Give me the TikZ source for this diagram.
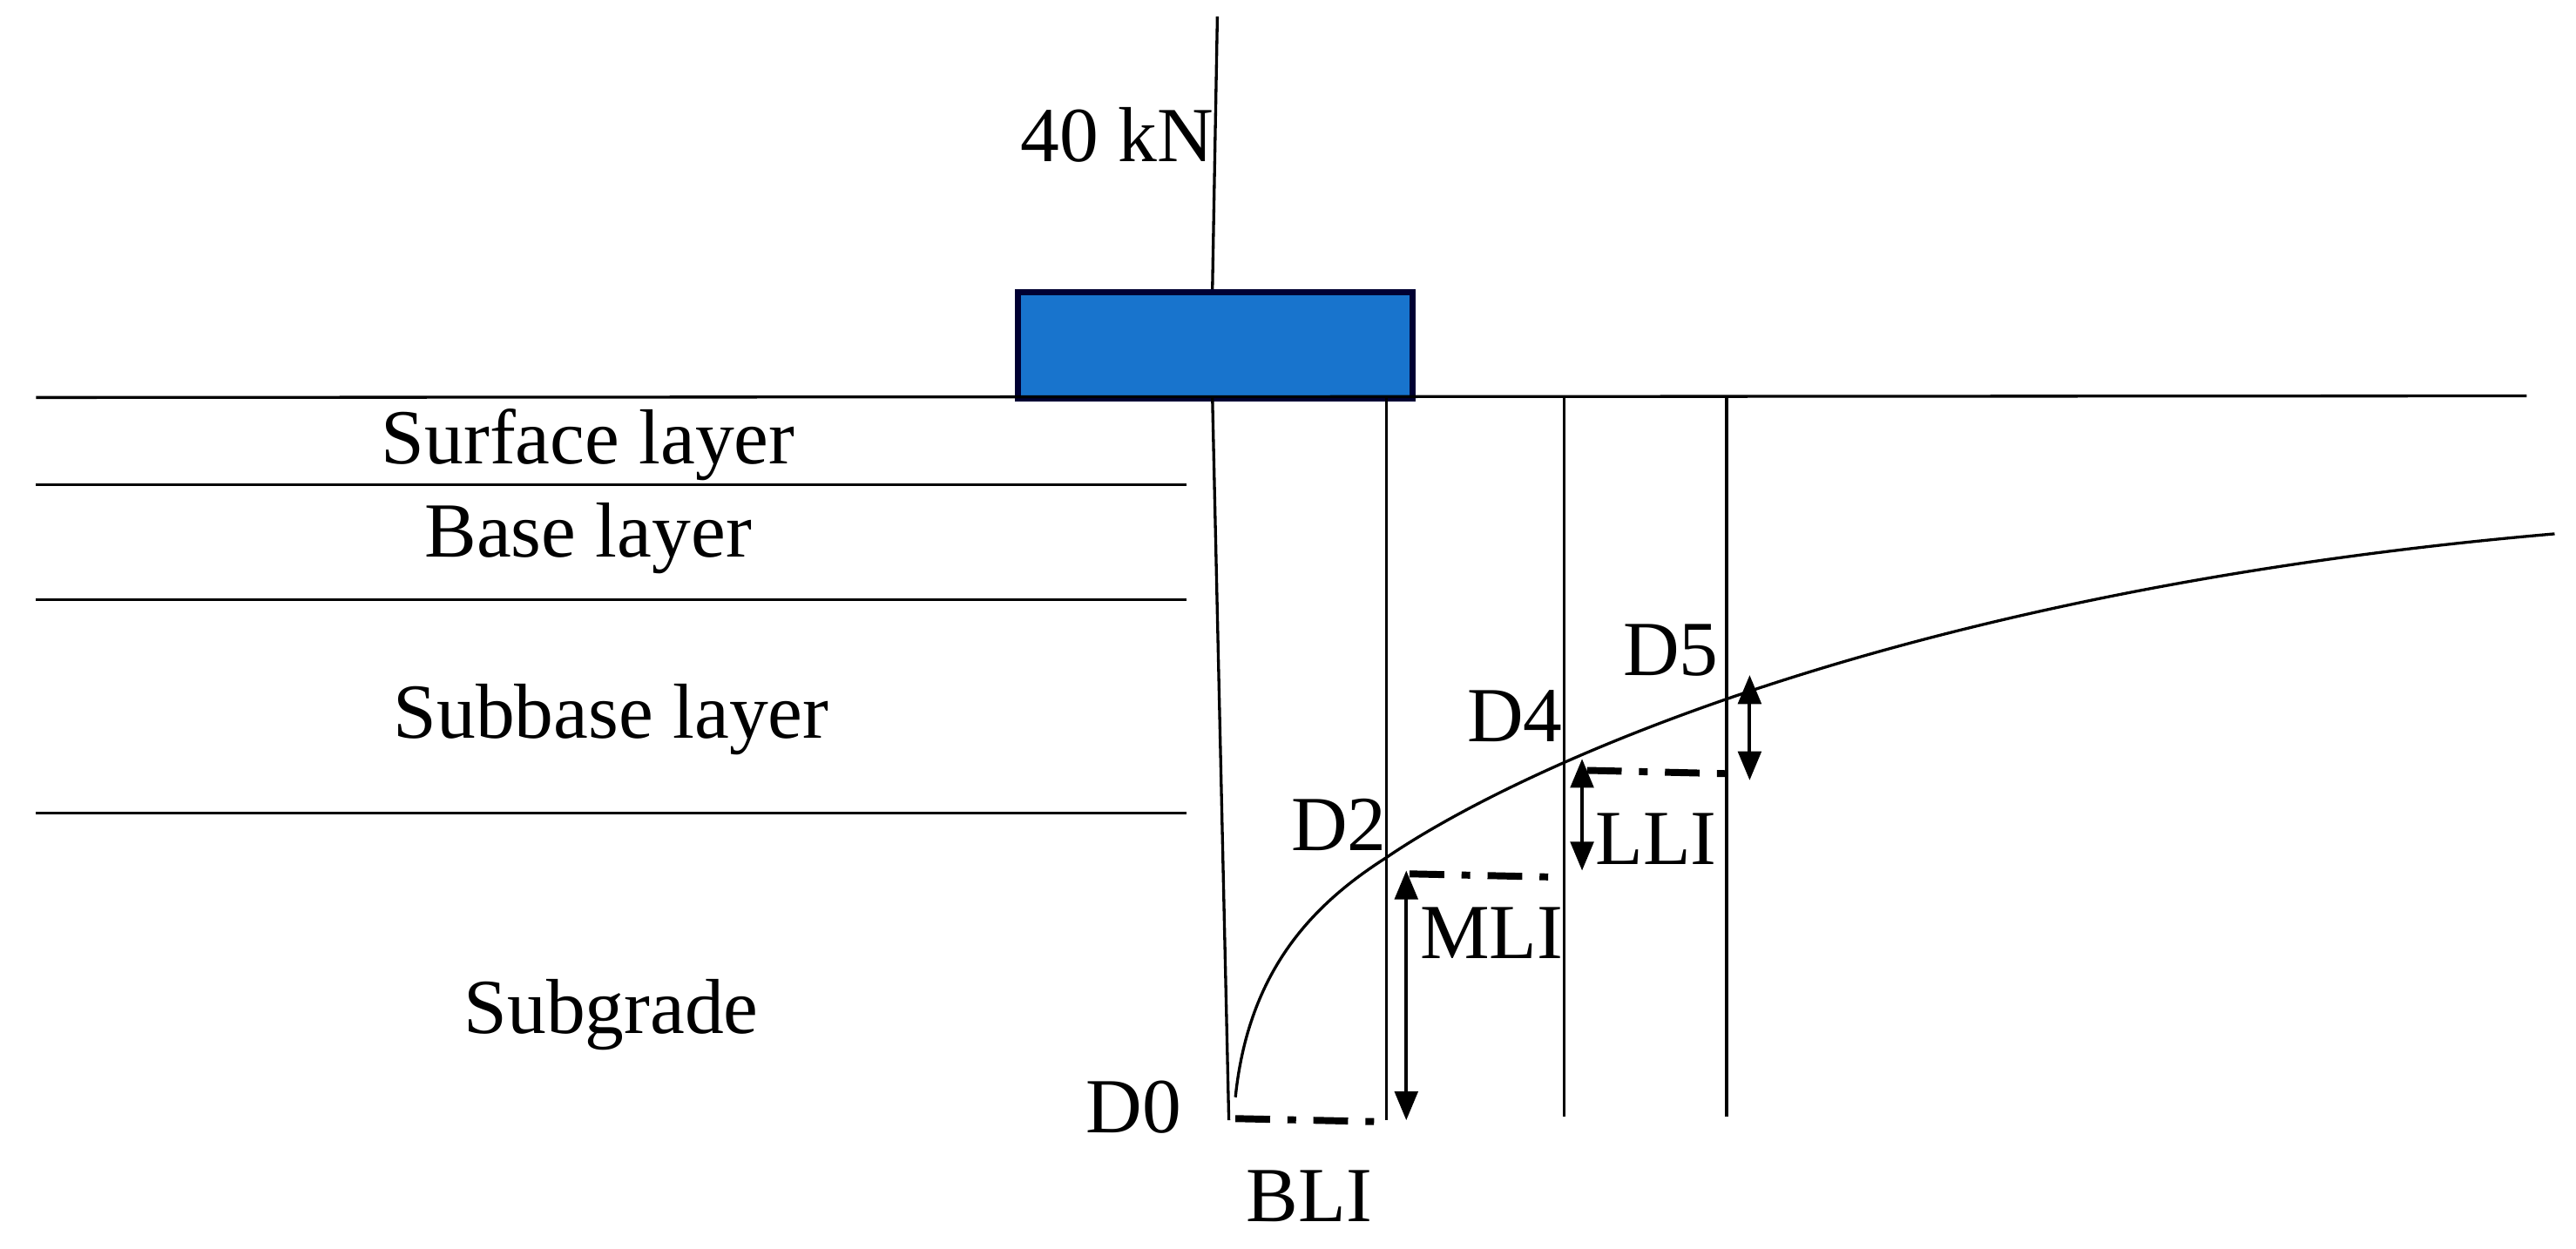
\documentclass[tikz,border=0pt]{standalone}
\usepackage{fontspec}
\setmainfont{Liberation Serif}
\usetikzlibrary{arrows.meta}
\begin{document}
\begin{tikzpicture}[x=0.01cm,y=-0.01cm,
  lbl/.style={font=\fontsize{13.5}{15}\selectfont,inner sep=0pt},
  thin line/.style={line width=0.5pt},
  dd/.style={line width=1.2pt,dash pattern=on 6pt off 3pt on 1.5pt off 3pt},
  dim/.style={line width=0.6pt,{Triangle[length=5pt,width=4pt]}-{Triangle[length=5pt,width=4pt]}}]
\useasboundingbox (0,0) rectangle (1568,760);
% load
\coordinate (lt) at (741,10); \coordinate (lb) at (738,176);
\draw[thin line] (lt) -- (lb);
\node[draw=black!80!blue,line width=1pt,fill={rgb,255:red,24;green,116;blue,205},minimum width=2.4cm,minimum height=0.65cm,inner sep=0pt,anchor=north west] (plate) at (618,176) {};
\coordinate (g0) at (22,242); \coordinate (g1) at (1538,241);
\draw[thin line] (g0) -- (g1);
\coordinate (lc) at (738,242); \coordinate (lbot) at (748,682);
\draw[thin line] (lc) -- (lbot);
% layers
\foreach \y in {295,365,495} \draw[thin line] (22,\y) -- (722,\y);
\node[lbl] (sl) at (358,271) {Surface layer};
\node[lbl] (bl) at (358,328) {Base layer};
\node[lbl] (sbl) at (372,438) {Subbase layer};
\node[lbl] (sg) at (372,618) {Subgrade};
\node[lbl] (load) at (680,82) {40 kN};
% sensors
\foreach \x/\b in {844/682,952/680,1051/680} \draw[thin line] (\x,242) -- (\x,\b);
% deflection bowl
\draw[thin line] (752,668) .. controls (760,590) and (800,550) .. (844,522)
  .. controls (920,470) and (1150,360) .. (1555,325);
\node[lbl] (d0) at (690,674) {D0};
\node[lbl] (d2) at (815,502) {D2};
\node[lbl] (d4) at (922,436) {D4};
\node[lbl] (d5) at (1017,396) {D5};
% indices
\coordinate (b0) at (752,681); \coordinate (b1) at (844,683);
\draw[dd] (b0) -- (b1);
\node[lbl] (bli) at (797,728) {BLI};
\coordinate (m0) at (858,532); \coordinate (m1) at (948,534);
\draw[dd] (m0) -- (m1);
\coordinate (ma) at (856,530); \coordinate (mb) at (856,682);
\draw[dim] (ma) -- (mb);
\node[lbl] (mli) at (908,568) {MLI};
\coordinate (l0) at (966,469); \coordinate (l1) at (1050,471);
\draw[dd] (l0) -- (l1);
\coordinate (la) at (963,462); \coordinate (lb2) at (963,530);
\draw[dim] (la) -- (lb2);
\node[lbl] (lli) at (1008,511) {LLI};
\coordinate (da) at (1065,411); \coordinate (db) at (1065,475);
\draw[dim] (da) -- (db);
\end{tikzpicture}
\end{document}
